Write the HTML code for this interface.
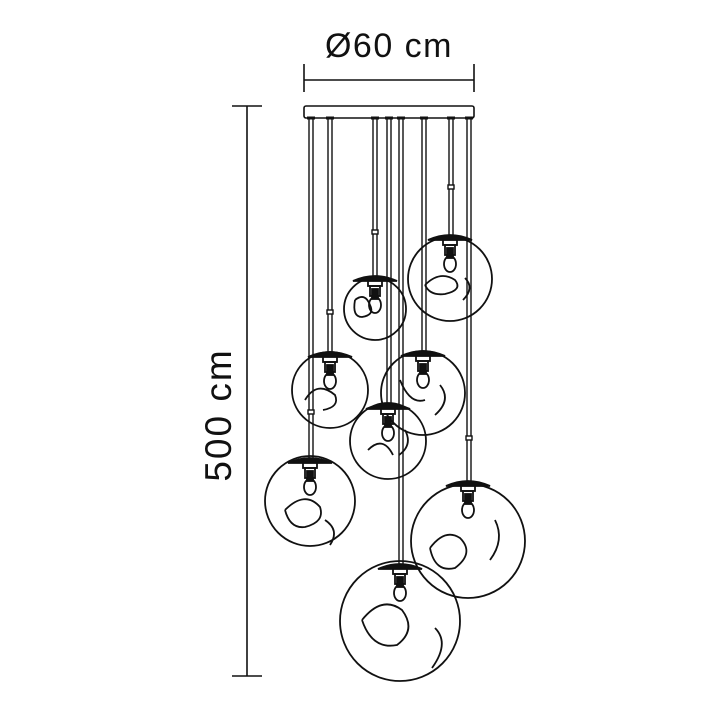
<!DOCTYPE html>
<html><head><style>html,body{margin:0;background:#fff}svg{display:block}</style></head>
<body>
<svg width="714" height="714" viewBox="0 0 714 714" xmlns="http://www.w3.org/2000/svg" fill="none" stroke="#111" stroke-width="1.6">
<text x="389" y="57" font-family="Liberation Sans, sans-serif" font-size="34" letter-spacing="1.5" fill="#111" stroke="none" text-anchor="middle">Ø60 cm</text>
<line x1="304" y1="80" x2="474" y2="80"/>
<line x1="304" y1="64" x2="304" y2="92"/>
<line x1="474" y1="64" x2="474" y2="92"/>
<line x1="247" y1="106" x2="247" y2="676"/>
<line x1="232" y1="106" x2="262" y2="106"/>
<line x1="232" y1="676" x2="262" y2="676"/>
<text transform="translate(231,415) rotate(-90)" font-family="Liberation Sans, sans-serif" font-size="37" letter-spacing="2" fill="#111" stroke="none" text-anchor="middle">500 cm</text>
<rect x="304" y="106" width="170" height="12" rx="2"/>
<defs>
<g id="p">
<path d="M-22,0 Q0,-10 22,0 Z" fill="#111"/>
<rect x="-7" y="0" width="14" height="5" fill="#fff"/>
<rect x="-5" y="5" width="10" height="10"/>
<rect x="-3" y="8" width="6" height="10" fill="#111"/>
<ellipse cx="0" cy="24" rx="6" ry="8"/>
</g>
</defs>
<g stroke-width="1.4">
<path d="M309,118V462M313,118V462 M328,118V355M332,118V355 M373,118V280M377,118V280 M387,118V408M391,118V408 M399,118V567M403,118V567 M422,118V355M426,118V355 M449,118V238M453,118V238 M467,118V485M471,118V485"/>
<path d="M307,118h8M326,118h8M371,118h8M385,118h8M397,118h8M420,118h8M447,118h8M465,118h8" stroke-width="3"/>
<rect x="372" y="230" width="6" height="4" fill="#fff"/>
<rect x="448" y="185" width="6" height="4" fill="#fff"/>
<rect x="327" y="310" width="6" height="4" fill="#fff"/>
<rect x="308" y="410" width="6" height="4" fill="#fff"/>
<rect x="466" y="436" width="6" height="4" fill="#fff"/>
</g>
<g stroke-width="1.8">
<circle cx="375" cy="309" r="31" fill="none"/>
<use href="#p" x="375" y="281"/>
<path d="M355,300 q10,-8 15,5 q5,10 -8,12 q-10,0 -7,-17" />
<circle cx="450" cy="279" r="42"/>
<use href="#p" x="450" y="240"/>
<path d="M425,285 q15,-15 30,-5 q8,10 -10,14 q-15,2 -20,-9 M465,278 q10,10 -2,22"/>
<circle cx="330" cy="390" r="38"/>
<use href="#p" x="330" y="357"/>
<path d="M305,400 q12,-20 30,-5 q5,12 -12,15"/>
<circle cx="423" cy="393" r="42"/>
<use href="#p" x="423" y="356"/>
<path d="M440,385 q12,15 -5,30 M400,380 q10,25 25,20"/>
<circle cx="388" cy="441" r="38"/>
<use href="#p" x="388" y="409"/>
<path d="M368,450 q15,-15 25,5 M405,430 q8,15 -6,25"/>
<circle cx="310" cy="501" r="45"/>
<use href="#p" x="310" y="463"/>
<path d="M285,510 q20,-20 35,-3 q5,15 -15,20 q-15,2 -20,-17 M325,520 q15,10 5,25"/>
<circle cx="468" cy="541" r="57"/>
<use href="#p" x="468" y="486"/>
<path d="M430,548 q15,-20 30,-10 q15,15 -5,30 q-20,5 -25,-20 M495,520 q10,20 -5,40"/>
<circle cx="400" cy="621" r="60"/>
<use href="#p" x="400" y="569"/>
<path d="M362,620 q20,-25 40,-10 q15,20 -5,35 q-25,5 -35,-25 M435,628 q15,15 -3,40"/>
</g>
</svg>
</body></html>
